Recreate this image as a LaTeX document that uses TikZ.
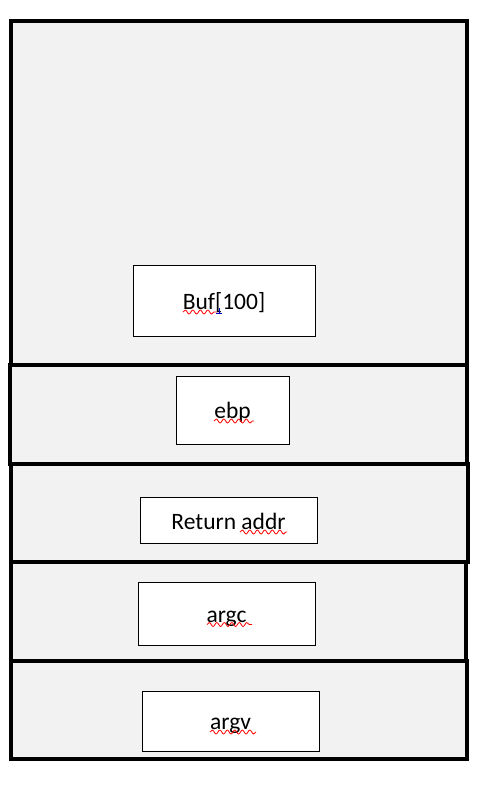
\documentclass[tikz,border=0pt]{standalone}
\usepackage{fontspec}
\setmainfont{Carlito}
\usetikzlibrary{positioning,decorations.pathmorphing}
\definecolor{framegray}{HTML}{F2F2F2}

\begin{document}
\begin{tikzpicture}[x=1pt, y=-1pt,
        frame/.style = {
            draw, 
            fill=framegray,
            line width=4pt
        },
        cell/.style = {
            draw, 
            fill=white,
            line width=1pt,
            inner sep=0pt,
            text height=17pt,
            text depth=0pt,
            font=\fontsize{23.5}{28}\selectfont
        },
        spell/.style = {
            draw=red, 
            line width=0.8pt,
            decorate,
            decoration={snake, amplitude=2pt, segment length=7.5pt}
        }]

        \useasboundingbox (0,0) rectangle (480,785);

        % stack frames
        \draw[frame] (11,21) rectangle (467,365);
        \draw[frame] (10,365) rectangle (467,464);
        \draw[frame] (11,464) rectangle (467.5,562);
        \draw[frame] (11,562) rectangle (466,661);
        \draw[frame] (10.5,661) rectangle (467,759);

        \node[cell, minimum width=182pt, minimum height=71pt] (buf) at (224,300.5) {Buf[100]};
        \node[cell, minimum width=113pt, minimum height=68pt] (ebp) at (232.5,410) {ebp};
        \node[cell, minimum width=177pt, minimum height=46pt] (ret) at (228.5,520.5) {Return addr};
        \node[cell, minimum width=177pt, minimum height=63pt] (argc) at (226.5,613.5) {argc};
        \node[cell, minimum width=177pt, minimum height=60pt] (argv) at (230.5,721) {argv};

        % spell check marks
        \draw[spell] (183,312) -- (217,312);
        \draw[spell] (214,421) -- (254,421);
        \draw[spell] (240,532) -- (287,532);
        \draw[spell] (207,624.5) -- (252,624.5);
        \draw[spell] (210,732) -- (256,732);
        \draw[blue!80!black, line width=1pt] (216,313) -- (222,313) (219,308) -- (219,313);
    \end{tikzpicture}
\end{document}
